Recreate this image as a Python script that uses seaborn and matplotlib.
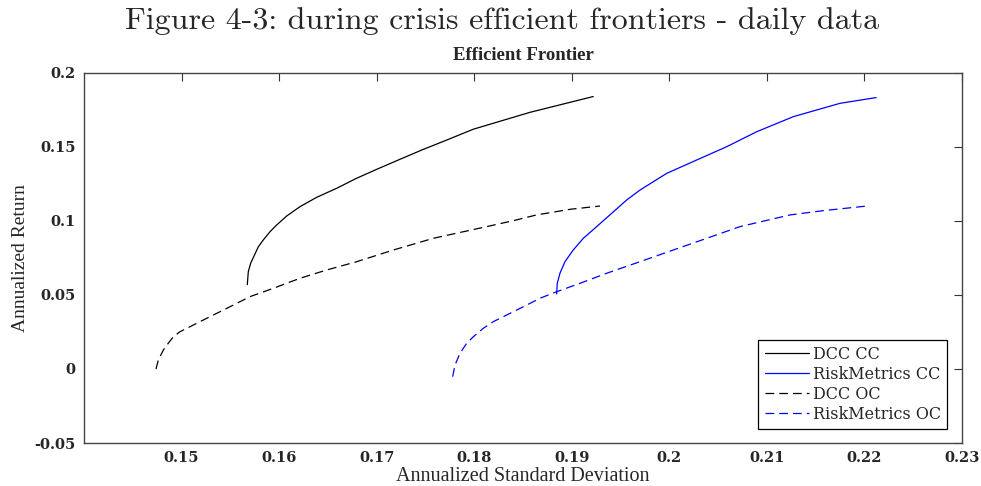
import numpy as np
import pandas as pd
import matplotlib
matplotlib.use("Agg")
import matplotlib.pyplot as plt
import seaborn as sns

# ---- data ----
dcc_cc_x = [0.15674, 0.15684, 0.15708, 0.15787, 0.15838, 0.15907, 0.15975, 0.16078, 0.16214,
            0.16385, 0.16590, 0.16795, 0.17000, 0.17239, 0.17478, 0.17718, 0.17990, 0.1857, 0.1922]
dcc_cc_y = [0.0570, 0.0657, 0.0714, 0.0826, 0.0872, 0.0928, 0.0973, 0.1034, 0.1097,
            0.1160, 0.1221, 0.1289, 0.1349, 0.1417, 0.1484, 0.1547, 0.1620, 0.1734, 0.1841]

rm_cc_x = [0.18845, 0.18851, 0.18879, 0.18930, 0.19015, 0.19118, 0.19255, 0.19409, 0.19563,
           0.19699, 0.19973, 0.20280, 0.20588, 0.20895, 0.21271, 0.21510, 0.21749, 0.2212]
rm_cc_y = [0.0507, 0.0579, 0.0647, 0.0725, 0.0804, 0.0883, 0.0962, 0.1052, 0.1142,
           0.1209, 0.1322, 0.1412, 0.1502, 0.1603, 0.1705, 0.1750, 0.1795, 0.1834]

dcc_oc_x = [0.14738, 0.14762, 0.14813, 0.14864, 0.14916, 0.14984, 0.15087, 0.15223, 0.15360,
            0.15531, 0.15702, 0.15940, 0.16214, 0.16488, 0.16795, 0.17171, 0.17580, 0.18128,
            0.18400, 0.18639, 0.18982, 0.19289]
dcc_oc_y = [0.0000, 0.0061, 0.0128, 0.0174, 0.0218, 0.0252, 0.0286, 0.0331, 0.0376,
            0.0432, 0.0489, 0.0545, 0.0613, 0.0669, 0.0725, 0.0804, 0.0883, 0.0962,
            0.1002, 0.1041, 0.1079, 0.1101]

rm_oc_x = [0.17779, 0.17803, 0.17854, 0.17923, 0.17991, 0.18093, 0.18196, 0.18367, 0.18538,
           0.18674, 0.18845, 0.19084, 0.19358, 0.19699, 0.20040, 0.20383, 0.20724, 0.21237,
           0.21578, 0.22023]
rm_oc_y = [-0.0052, 0.0027, 0.0106, 0.0174, 0.0218, 0.0275, 0.0320, 0.0376, 0.0432,
           0.0478, 0.0522, 0.0579, 0.0647, 0.0725, 0.0804, 0.0883, 0.0962, 0.1041,
           0.1070, 0.1101]

series_names = ["DCC CC", "RiskMetrics CC", "DCC OC", "RiskMetrics OC"]
x_ticks = [0.15, 0.16, 0.17, 0.18, 0.19, 0.20, 0.21, 0.22, 0.23]
x_tick_labels = ["0.15", "0.16", "0.17", "0.18", "0.19", "0.2", "0.21", "0.22", "0.23"]
y_ticks = [-0.05, 0.0, 0.05, 0.10, 0.15, 0.20]
y_tick_labels = ["-0.05", "0", "0.05", "0.1", "0.15", "0.2"]

# ---- plotting ----
sns.set_style("white")
plt.rcParams["font.family"] = ["Liberation Serif", "DejaVu Serif"]

fig = plt.figure(figsize=(9.81, 4.86), dpi=100)
ax = fig.add_axes([84 / 981, (486 - 443) / 486, 878 / 981, 370 / 486])

data = [(dcc_cc_x, dcc_cc_y), (rm_cc_x, rm_cc_y), (dcc_oc_x, dcc_oc_y), (rm_oc_x, rm_oc_y)]
colors = ["black", "blue", "black", "blue"]
styles = ["-", "-", (0, (7, 4)), (0, (7, 4))]

for name, (xs, ys), c, ls in zip(series_names, data, colors, styles):
    df = pd.DataFrame({"x": xs, "y": ys})
    sns.lineplot(data=df, x="x", y="y", ax=ax, sort=False, estimator=None,
                 color=c, linestyle=ls, linewidth=0.9, label=name)

ax.set_xlim(0.14, 0.23)
ax.set_ylim(-0.05, 0.2)
ax.set_xticks(x_ticks)
ax.set_xticklabels(x_tick_labels)
ax.set_yticks(y_ticks)
ax.set_yticklabels(y_tick_labels)
ax.tick_params(direction="in", length=6, width=0.8, top=True, right=True,
               labelsize=10.5, color="#333333", pad=6)
for lab in ax.get_xticklabels() + ax.get_yticklabels():
    lab.set_fontfamily("DejaVu Serif")
    lab.set_fontweight("bold")
for sp in ax.spines.values():
    sp.set_color("#444444")
    sp.set_linewidth(1.0)

ax.set_xlabel("Annualized Standard Deviation", fontsize=14.5, labelpad=1)
ax.set_ylabel("Annualized Return", fontsize=14, labelpad=4)
ax.set_title("Efficient Frontier", fontsize=13.5, fontweight="bold", pad=9)

fig.suptitle("Figure 4-3: during crisis efficient frontiers - daily data",
             fontsize=23, family="cmr10", x=0.512, y=0.985)

leg = ax.legend(loc="lower right", bbox_to_anchor=(0.983, 0.038), borderaxespad=0,
                frameon=True, fancybox=False, edgecolor="black", framealpha=1,
                prop={"family": "DejaVu Serif", "size": 11.5},
                handlelength=2.8, handletextpad=0.2, labelspacing=0.18,
                borderpad=0.4)
leg.get_frame().set_linewidth(0.9)

fig.savefig("out.png", dpi=100)
